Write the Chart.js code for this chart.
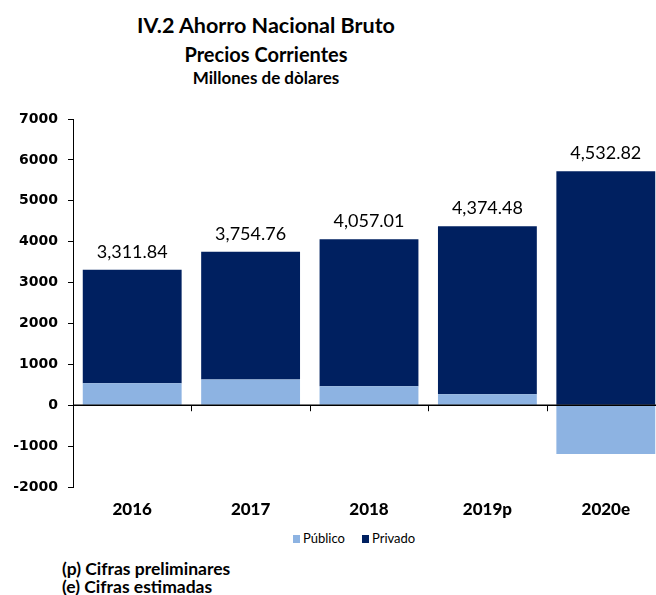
<!DOCTYPE html>
<html><head><meta charset="utf-8">
<script src="https://cdn.jsdelivr.net/npm/chart.js@4/dist/chart.umd.min.js"></script>
<style>
html,body{margin:0;padding:0;background:#fff;}
body{width:656px;height:595px;position:relative;overflow:hidden;}
.t{position:absolute;left:0;width:532px;text-align:center;font-family:Lato,sans-serif;color:#000;white-space:nowrap;font-weight:700;}
#wrap{position:absolute;left:0;top:0;width:700px;height:530px;}
.lg{position:absolute;top:530px;font-family:Lato,sans-serif;font-size:13px;color:#000;white-space:nowrap;}
.lg span.b{display:inline-block;width:7px;height:8px;margin-right:3px;}
.fn{position:absolute;left:62px;font-family:Lato,sans-serif;font-weight:700;font-size:17.5px;color:#000;white-space:nowrap;}
</style></head>
<body>
<div class="t" style="top:12px;font-size:21.5px;">IV.2 Ahorro Nacional Bruto</div>
<div class="t" style="top:42px;font-size:20px;">Precios Corrientes</div>
<div class="t" style="top:66.5px;font-size:17px;">Millones de dòlares</div>
<div id="wrap"><canvas id="c" width="700" height="530"></canvas></div>
<div class="lg" style="left:293px;"><span class="b" style="background:#8DB3E2"></span>Público</div>
<div class="lg" style="left:362px;"><span class="b" style="background:#002060"></span>Privado</div>
<div class="fn" style="top:557.7px;">(p) Cifras preliminares</div>
<div class="fn" style="top:575.5px;">(e) Cifras estimadas</div>
<script>
const categories = ['2016', '2017', '2018', '2019p', '2020e'];
const publico = [538, 628, 465, 269, -1190];
const privado = [2774, 3127, 3592, 4105, 5723];
const totals = [3311.84, 3754.76, 4057.01, 4374.48, 4532.82];
const yTicks = [-2000, -1000, 0, 1000, 2000, 3000, 4000, 5000, 6000, 7000];

const annot = {
  id: 'annot',
  afterDatasetsDraw(chart) {
    const ctx = chart.ctx, x = chart.scales.x, y = chart.scales.y, ca = chart.chartArea;
    const y0 = y.getPixelForValue(0);
    ctx.save();
    ctx.strokeStyle = '#000';
    ctx.lineWidth = 1.5;
    ctx.beginPath();
    ctx.moveTo(ca.left, y0);
    ctx.lineTo(ca.right, y0);
    ctx.stroke();
    ctx.lineWidth = 1;
    for (let i = 0; i < categories.length - 1; i++) {
      const xb = Math.round((x.getPixelForTick(i) + x.getPixelForTick(i + 1)) / 2) + 0.5;
      ctx.beginPath();
      ctx.moveTo(xb, y0);
      ctx.lineTo(xb, y0 + 6);
      ctx.stroke();
    }
    ctx.fillStyle = '#000';
    ctx.font = '18px Lato';
    ctx.textAlign = 'center';
    ctx.textBaseline = 'alphabetic';
    for (let i = 0; i < categories.length; i++) {
      const pos = Math.max(0, publico[i]) + Math.max(0, privado[i]);
      const py = y.getPixelForValue(pos);
      const label = totals[i].toLocaleString('en-US', {minimumFractionDigits: 2, maximumFractionDigits: 2});
      ctx.fillText(label, x.getPixelForTick(i), py - 12);
    }
    ctx.restore();
  }
};

new Chart(document.getElementById('c'), {
  type: 'bar',
  data: {
    labels: categories,
    datasets: [
      {label: 'Público', data: publico, backgroundColor: '#8DB3E2', borderWidth: 0, categoryPercentage: 1, barPercentage: 0.835},
      {label: 'Privado', data: privado, backgroundColor: '#002060', borderWidth: 0, categoryPercentage: 1, barPercentage: 0.835}
    ]
  },
  options: {
    responsive: false,
    devicePixelRatio: 1,
    animation: false,
    layout: {padding: {top: 119, right: 35, bottom: 0, left: 0}},
    plugins: {legend: {display: false}, tooltip: {enabled: false}, title: {display: false}},
    scales: {
      x: {
        stacked: true,
        grid: {display: false, drawTicks: false},
        border: {display: false},
        ticks: {color: '#000', font: {family: 'Lato', weight: '900', size: 17}, padding: 12},
        afterFit(s) { s.height = 43; }
      },
      y: {
        stacked: true,
        min: -2000, max: 7000,
        afterBuildTicks(s) { s.ticks = yTicks.map(v => ({value: v})); },
        grid: {drawOnChartArea: false, tickLength: 5, tickColor: '#000', color: '#000'},
        border: {display: true, color: '#000', width: 1},
        ticks: {color: '#000', font: {family: 'DejaVu Sans', weight: 'bold', size: 14}, padding: 10, callback: v => String(v)},
        afterFit(s) { s.width = 73; }
      }
    }
  },
  plugins: [annot]
});
</script>
</body></html>
